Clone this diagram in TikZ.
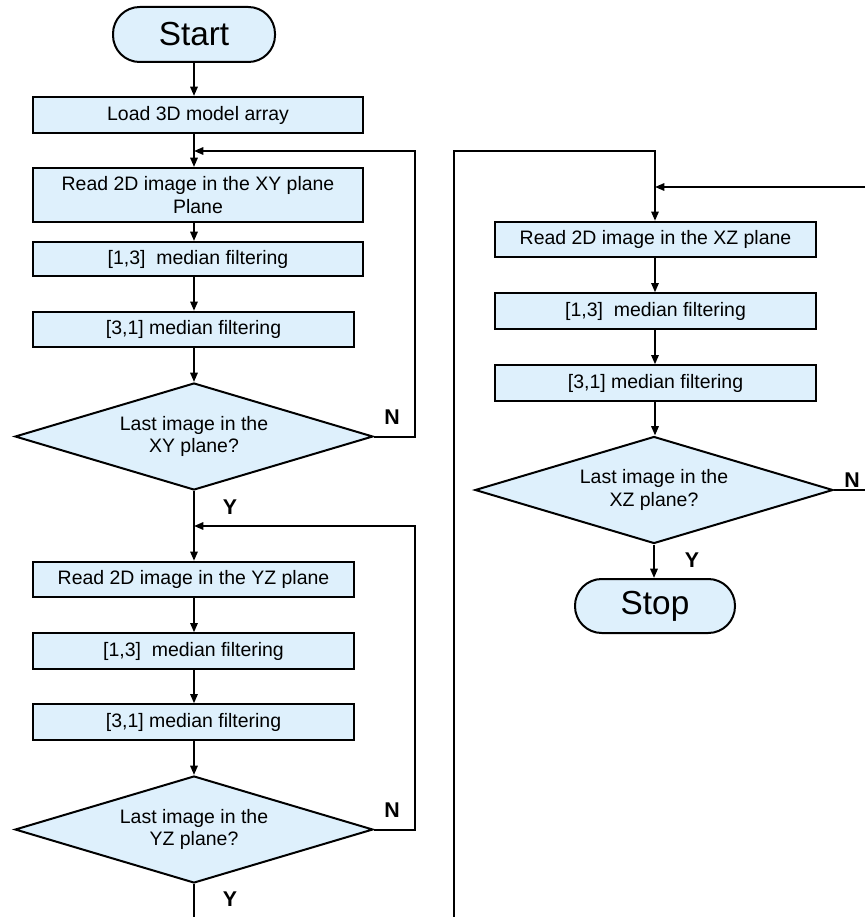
\documentclass[tikz,border=0pt]{standalone}
\usepackage{fontspec}
\setmainfont{Liberation Sans}
\usetikzlibrary{shapes.geometric,arrows.meta}
\definecolor{boxfill}{RGB}{222,240,252}
\tikzset{
  base/.style={draw=black, line width=1.5pt, fill=boxfill, inner sep=0pt, align=center,
    font=\fontsize{14.6pt}{16.8pt}\selectfont},
  procA/.style={base, rectangle, minimum width=247.5pt},
  procB/.style={base, rectangle, minimum width=240.75pt, minimum height=26.5pt},
  decide/.style={base, diamond, aspect=3.35, minimum width=268.5pt, minimum height=80.25pt},
  term/.style={base, rectangle, rounded corners=20pt, font=\fontsize{25pt}{28pt}\selectfont},
  arr/.style={line width=1.5pt, -{Triangle[length=7pt,width=5.5pt]}},
  ln/.style={line width=1.5pt},
  lbl/.style={font=\bfseries\fontsize{16pt}{18pt}\selectfont, inner sep=0pt}
}
\begin{document}
\begin{tikzpicture}[x=0.75pt,y=-0.75pt]
\useasboundingbox (0,0) rectangle (865,917);
% left column
\node[term, minimum width=121.5pt, minimum height=41.25pt] (start) at (194,34.5) {Start};
\node[procA, minimum height=27pt] (load) at (198,115) {Load 3D model array};
\node[procA, minimum height=40.5pt] (readxy) at (198,195) {Read 2D image in the XY plane\\Plane};
\node[procA, minimum height=25.5pt] (f13a) at (198,259) {[1,3]~~median filtering};
\node[procB] (f31a) at (193.5,329.5) {[3,1] median filtering};
\node[decide] (dxy) at (194,436.5) {Last image in the\\XY plane?};
\node[procB] (readyz) at (193.5,579.5) {Read 2D image in the YZ plane};
\node[procB] (f13b) at (193.5,651) {[1,3]~~median filtering};
\node[procB] (f31b) at (193.5,722) {[3,1] median filtering};
\node[decide] (dyz) at (194,829.5) {Last image in the\\YZ plane?};
% right column
\node[procB] (readxz) at (655.5,239.5) {Read 2D image in the XZ plane};
\node[procB] (f13c) at (655.5,311) {[1,3]~~median filtering};
\node[procB] (f31c) at (655.5,383) {[3,1] median filtering};
\node[decide] (dxz) at (654,490) {Last image in the\\XZ plane?};
\node[term, minimum width=120pt, minimum height=40.5pt] (stop) at (655,606) {Stop};
% junctions and edge points
\coordinate (j1) at (194,151);
\coordinate (j2) at (194,526);
\coordinate (rl) at (415,151);
\coordinate (t1) at (454,151);
\coordinate (t2) at (655,151);
\coordinate (j3) at (655,187);
\coordinate (eR1) at (865,187);
\coordinate (eR2) at (865,490);
\coordinate (eB1) at (194,917);
\coordinate (eB2) at (454,917);
% left connectors
\draw[arr] (start.south) -- (start.south |- load.north);
\draw[arr] (load.south -| j1) -- (j1 |- readxy.north);
\draw[arr] (readxy.south -| j1) -- (j1 |- f13a.north);
\draw[arr] (f13a.south -| j1) -- (j1 |- f31a.north);
\draw[arr] (f31a.south -| j1) -- (dxy.north);
\draw[arr] (dxy.east) -- (dxy.east -| rl) -- (rl) -- (j1);
\draw[arr] (dxy.south) -- (dxy.south |- readyz.north);
\draw[arr] (readyz.south -| j2) -- (j2 |- f13b.north);
\draw[arr] (f13b.south -| j2) -- (j2 |- f31b.north);
\draw[arr] (f31b.south -| j2) -- (dyz.north);
\draw[arr] (dyz.east) -- (dyz.east -| rl) -- (rl |- j2) -- (j2);
\draw[ln] (dyz.south) -- (eB1);
% right connectors
\draw[arr] (eB2) -- (t1) -- (t2) -- (t2 |- readxz.north);
\draw[arr] (eR1) -- (j3);
\draw[arr] (readxz.south -| j3) -- (j3 |- f13c.north);
\draw[arr] (f13c.south -| j3) -- (j3 |- f31c.north);
\draw[arr] (f31c.south -| j3) -- (j3 |- dxz.north);
\draw[arr] (dxz.south) -- (dxz.south |- stop.north);
\draw[ln] (dxz.east) -- (eR2);
% labels
\node[lbl] (n1) at (392,417) {N};
\node[lbl] (y1) at (230,507) {Y};
\node[lbl] (n2) at (392,810) {N};
\node[lbl] (y2) at (230,899) {Y};
\node[lbl] (n3) at (852,480) {N};
\node[lbl] (y3) at (692,560) {Y};
\end{tikzpicture}
\end{document}
